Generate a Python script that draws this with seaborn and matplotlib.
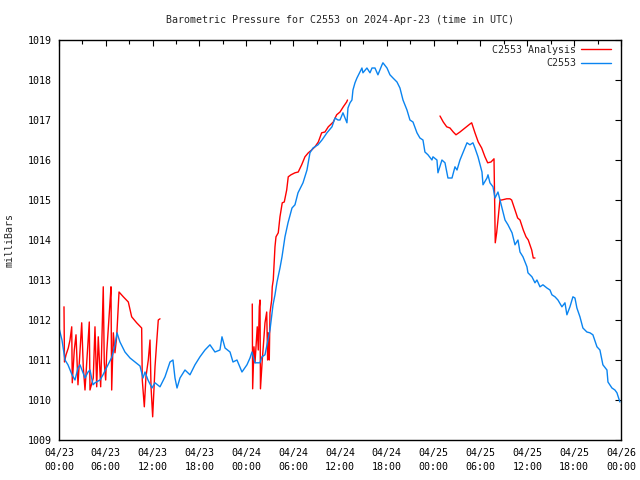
import numpy as np
import pandas as pd
import matplotlib
matplotlib.use("Agg")
import matplotlib.pyplot as plt
import matplotlib.dates as mdates
from matplotlib.lines import Line2D
import seaborn as sns

# ---------------- data ----------------
start = pd.Timestamp("2024-04-23 00:00")

# C2553 observed (hours since 04/23 00:00 UTC, mb)
obs_hours = [0.0, 0.38, 0.77, 1.15, 1.67, 2.05, 2.43, 2.69, 3.33, 3.72, 3.97, 4.36, 4.61,
             5.25, 5.64, 6.28, 6.79, 7.17, 7.43, 7.81, 8.45, 9.10, 9.74, 10.38, 10.76, 11.02,
             11.40, 11.91, 12.30, 12.94, 13.58, 14.22, 14.60, 14.86, 15.12, 15.50, 16.14,
             16.78, 17.42, 18.06, 18.70, 19.34, 19.98, 20.62, 20.88, 21.27, 21.91, 22.29,
             22.80, 23.44, 24.08, 24.47, 24.72, 25.11, 25.75, 26.00, 26.39, 26.77, 27.03,
             27.29, 27.42, 27.67, 27.93, 28.31, 28.57, 28.95, 29.34, 29.85, 30.23, 30.62,
             31.26, 31.77, 32.15, 32.54, 33.18, 33.69, 34.33, 34.97, 35.36, 35.74, 36.00,
             36.38, 36.64, 36.89, 37.02, 37.28, 37.53, 37.66, 37.92, 38.17, 38.56, 38.81,
             38.94, 39.45, 39.84, 40.10, 40.48, 40.86, 41.38, 41.50, 42.02, 42.40, 42.79,
             43.30, 43.68, 44.07, 44.58, 44.96, 45.35, 45.86, 46.24, 46.63, 46.88, 47.27,
             47.78, 47.91, 48.42, 48.55, 49.06, 49.45, 49.83, 50.35, 50.73, 50.99, 51.37,
             51.75, 52.27, 52.65, 53.03, 53.29, 53.68, 54.19, 54.32, 54.83, 54.96, 55.21,
             55.60, 55.86, 56.24, 56.75, 57.14, 57.52, 58.04, 58.42, 58.80, 59.06, 59.44,
             59.95, 60.08, 60.59, 60.98, 61.23, 61.62, 62.00, 62.51, 62.90, 63.15, 63.54,
             63.92, 64.43, 64.82, 65.07, 65.46, 65.84, 66.10, 66.35, 66.74, 67.12, 67.63,
             68.02, 68.40, 68.92, 69.30, 69.68, 70.20, 70.33, 70.84, 71.22, 71.48, 71.86]
obs_mb = [1011.80, 1011.50, 1011.00, 1010.88, 1010.63, 1010.50, 1010.80, 1010.88, 1010.55,
          1010.70, 1010.75, 1010.38, 1010.43, 1010.50, 1010.63, 1010.88, 1011.08, 1011.38,
          1011.68, 1011.45, 1011.20, 1011.05, 1010.95, 1010.85, 1010.55, 1010.70, 1010.50,
          1010.30, 1010.43, 1010.33, 1010.58, 1010.95, 1011.00, 1010.55, 1010.30, 1010.55,
          1010.75, 1010.63, 1010.88, 1011.08, 1011.25, 1011.38, 1011.20, 1011.25, 1011.58,
          1011.30, 1011.20, 1010.95, 1011.00, 1010.70, 1010.88, 1011.05, 1011.20, 1010.93,
          1010.93, 1011.08, 1011.13, 1011.50, 1011.75, 1012.18, 1012.38, 1012.63, 1012.95,
          1013.30, 1013.58, 1014.08, 1014.43, 1014.80, 1014.88, 1015.18, 1015.43, 1015.75,
          1016.18, 1016.30, 1016.38, 1016.50, 1016.68, 1016.83, 1017.05, 1017.00, 1017.00,
          1017.18, 1017.05, 1016.93, 1017.30, 1017.43, 1017.50, 1017.75, 1017.93, 1018.05,
          1018.20, 1018.30, 1018.18, 1018.30, 1018.18, 1018.30, 1018.30, 1018.13, 1018.38,
          1018.43, 1018.30, 1018.13, 1018.05, 1017.95, 1017.80, 1017.50, 1017.25, 1017.00,
          1016.95, 1016.68, 1016.55, 1016.50, 1016.20, 1016.13, 1016.00, 1016.08, 1016.00,
          1015.68, 1016.00, 1015.93, 1015.55, 1015.55, 1015.83, 1015.75, 1016.00, 1016.18,
          1016.43, 1016.38, 1016.43, 1016.30, 1016.08, 1015.70, 1015.38, 1015.55, 1015.63,
          1015.43, 1015.33, 1015.05, 1015.20, 1014.80, 1014.50, 1014.38, 1014.18, 1013.88,
          1014.00, 1013.70, 1013.58, 1013.33, 1013.18, 1013.08, 1012.93, 1013.00, 1012.83,
          1012.88, 1012.80, 1012.75, 1012.63, 1012.58, 1012.50, 1012.33, 1012.43, 1012.13,
          1012.33, 1012.58, 1012.55, 1012.30, 1012.08, 1011.80, 1011.70, 1011.68, 1011.63,
          1011.33, 1011.25, 1010.88, 1010.75, 1010.45, 1010.30, 1010.25, 1010.18, 1009.95]

# C2553 Analysis (three separate pieces)
ana_hours = [0.64, 0.70, 0.90, 1.19, 1.41, 1.63, 1.70, 1.96, 2.18, 2.43, 2.91, 3.11, 3.33,
             3.55, 3.88, 3.97, 4.39, 4.61, 4.83, 5.03, 5.34, 5.67, 5.80, 5.98, 6.11, 6.53,
             6.66, 6.75, 6.96, 7.17, 7.39, 7.69, 8.24, 8.88, 9.31, 9.95, 10.59, 10.67, 10.93,
             11.14, 11.44, 11.66, 11.79, 12.00, 12.30, 12.51, 12.72, 12.94,
             24.76, 24.81, 24.98, 25.11, 25.40, 25.53, 25.66, 25.75, 25.81, 26.04, 26.17,
             26.39, 26.61, 26.73, 26.81, 26.94, 27.03, 27.25, 27.32, 27.45, 27.67, 27.80,
             28.09, 28.31, 28.60, 28.86, 29.17, 29.37, 29.72, 30.23, 30.65, 31.09, 31.51,
             31.94, 32.37, 32.79, 33.22, 33.65, 34.07, 34.50, 35.14, 35.57, 36.00, 36.42,
             36.85, 36.96,
             48.81, 49.23, 49.67, 50.09, 50.51, 50.86, 51.37, 52.01, 52.65, 52.87, 53.29,
             53.71, 54.15, 54.57, 54.92, 55.34, 55.73, 55.81, 55.89, 56.07, 56.28, 56.49,
             56.71, 57.35, 57.77, 57.99, 58.42, 58.76, 59.06, 59.48, 59.83, 60.12, 60.56,
             60.76, 60.98]
ana_mb = [1012.33, 1010.95, 1011.13, 1011.30, 1011.50, 1011.83, 1010.43, 1011.25, 1011.63,
          1010.38, 1011.93, 1010.83, 1010.25, 1010.93, 1011.95, 1010.25, 1010.55, 1011.83,
          1010.33, 1011.58, 1010.33, 1012.83, 1010.93, 1010.50, 1011.18, 1012.43, 1012.83,
          1010.25, 1011.68, 1011.18, 1011.58, 1012.70, 1012.58, 1012.45, 1012.08, 1011.93,
          1011.80, 1010.50, 1009.83, 1010.58, 1011.00, 1011.50, 1010.33, 1009.58, 1010.83,
          1011.43, 1012.00, 1012.03,
          1012.40, 1010.28, 1011.33, 1010.93, 1011.83, 1011.25, 1012.33, 1012.50, 1010.28,
          1011.00, 1011.33, 1011.93, 1012.20, 1011.00, 1011.68, 1011.00, 1012.18, 1012.50,
          1012.83, 1013.00, 1013.83, 1014.08, 1014.18, 1014.58, 1014.93, 1014.95, 1015.25,
          1015.58, 1015.63, 1015.68, 1015.70, 1015.88, 1016.08, 1016.18, 1016.25, 1016.33,
          1016.45, 1016.68, 1016.70, 1016.83, 1016.95, 1017.13, 1017.20, 1017.33, 1017.45,
          1017.50,
          1017.10, 1016.95, 1016.83, 1016.80, 1016.70, 1016.63, 1016.70, 1016.80, 1016.90,
          1016.93, 1016.68, 1016.45, 1016.30, 1016.08, 1015.93, 1015.95, 1016.03, 1015.00,
          1013.93, 1014.18, 1014.58, 1015.00, 1015.00, 1015.03, 1015.03, 1015.00, 1014.75,
          1014.55, 1014.50, 1014.25, 1014.08, 1014.00, 1013.75, 1013.55, 1013.55]
ana_piece = [1] * 48 + [2] * 46 + [3] * 35

title = "Barometric Pressure for C2553 on 2024-Apr-23 (time in UTC)"
ylabel = "milliBars"
series_names = ["C2553 Analysis", "C2553"]
series_colors = ["#ff0000", "#0a84f0"]

# ---------------- frames ----------------
obs = pd.DataFrame({"time": start + pd.to_timedelta(obs_hours, unit="h"),
                    "mb": obs_mb, "piece": 0})
ana = pd.DataFrame({"time": start + pd.to_timedelta(ana_hours, unit="h"),
                    "mb": ana_mb, "piece": ana_piece})

# ---------------- plot ----------------
sns.set_style("white")
plt.rcParams["font.family"] = ["DejaVu Sans Mono", "DejaVu Sans"]
plt.rcParams["font.size"] = 7

fig = plt.figure(figsize=(6.4, 4.8), dpi=100)
ax = fig.add_axes([59 / 640, 40 / 480, (621 - 59) / 640, (440 - 40) / 480])

sns.lineplot(data=ana, x="time", y="mb", units="piece", estimator=None,
             color=series_colors[0], linewidth=1.0, ax=ax, legend=False)
sns.lineplot(data=obs, x="time", y="mb", units="piece", estimator=None,
             color=series_colors[1], linewidth=1.0, ax=ax, legend=False)

ax.set_xlim(start, start + pd.Timedelta(hours=72))
ax.set_ylim(1009, 1019)
ax.set_yticks(range(1009, 1020))
ax.xaxis.set_major_locator(mdates.HourLocator(byhour=[0, 6, 12, 18]))
ax.xaxis.set_minor_locator(mdates.HourLocator(byhour=[3, 9, 15, 21]))
ax.xaxis.set_major_formatter(mdates.DateFormatter("%m/%d\n%H:%M"))

ax.tick_params(axis="both", which="both", direction="in", top=True, right=True,
               colors="black", labelsize=7.2)
ax.tick_params(axis="both", which="major", length=4, width=0.8)
ax.tick_params(axis="x", which="minor", length=3, width=0.8)
ax.tick_params(axis="x", which="major", pad=6)
ax.tick_params(axis="y", which="major", pad=5)
for lab in ax.get_xticklabels():
    lab.set_linespacing(1.5)

for s in ax.spines.values():
    s.set_color("black")
    s.set_linewidth(1.0)

ax.set_xlabel("")
ax.set_ylabel(ylabel, fontsize=7.2)
ax.yaxis.set_label_coords(-44 / 562, 0.5)

fig.text(340 / 640, 1 - 20 / 480, title, ha="center", va="center", fontsize=7.2)

handles = [Line2D([], [], color=c, linewidth=1.0) for c in series_colors]
ax.legend(handles, series_names, loc="upper right", frameon=False, markerfirst=False,
          fontsize=7.2, handlelength=3.0, handletextpad=0.5,
          labelspacing=0.35, borderaxespad=0.0, borderpad=0.0,
          bbox_to_anchor=((611 - 59) / 562, (440 - 45) / 400))

fig.savefig("out.png", dpi=100)
